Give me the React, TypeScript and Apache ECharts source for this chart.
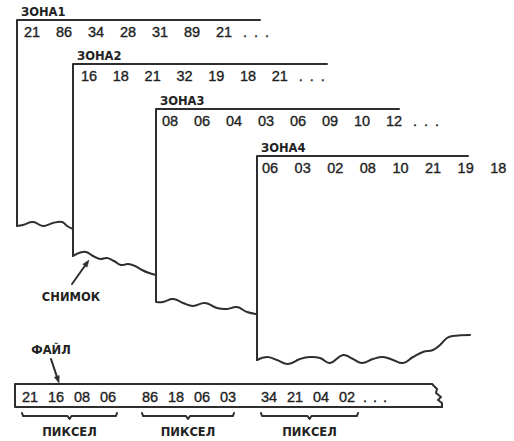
import React, { useEffect, useRef } from "react";
import * as echarts from "echarts";

// ---------- data ----------
const zoneLabels = ["ЗОНА1", "ЗОНА2", "ЗОНА3", "ЗОНА4"];
const zone1Values = ["21", "86", "34", "28", "31", "89", "21"];
const zone2Values = ["16", "18", "21", "32", "19", "18", "21"];
const zone3Values = ["08", "06", "04", "03", "06", "09", "10", "12"];
const zone4Values = ["06", "03", "02", "08", "10", "21", "19", "18"];
const zoneContinues = [true, true, true, false];
const pixel1Values = ["21", "16", "08", "06"];
const pixel2Values = ["86", "18", "06", "03"];
const pixel3Values = ["34", "21", "04", "02"];
const snapshotLabel = "СНИМОК";
const fileLabel = "ФАЙЛ";
const pixelLabel = "ПИКСЕЛ";

// ---------- layout ----------
const zoneValues = [zone1Values, zone2Values, zone3Values, zone4Values];
const pixelGroups = [pixel1Values, pixel2Values, pixel3Values];
const zoneX = [17, 73, 156, 257];
const zoneTop = [20, 64, 109, 156];
const zoneRight = [260, 327, 399, 468];
const zoneBottom = [226, 256, 301, 360];
const numStart = [24, 81, 162, 262];
const numStep = [32, 31.8, 32, 32.6];
const waves: number[][][] = [
  [[17, 226], [23, 225], [33, 222], [43, 226], [53, 223], [62, 222], [67, 226], [73, 229]],
  [[73, 256], [79, 253], [86, 252], [93, 256], [100, 259], [107, 258], [114, 261], [121, 265], [128, 264], [135, 266], [142, 270], [149, 273], [156, 275]],
  [[156, 302], [163, 302], [173, 299], [183, 303], [193, 306], [205, 303], [217, 308], [227, 309], [237, 307], [247, 312], [257, 314]],
  [[257, 360], [267, 357], [277, 360], [288, 364], [300, 359], [310, 357], [320, 358], [330, 363], [343, 355], [353, 359], [362, 363], [373, 359], [383, 357], [393, 360], [403, 363], [413, 357], [423, 352], [433, 350], [440, 345], [447, 338], [453, 336], [470, 335]],
];
const fileBox = { left: 15, top: 384, bottom: 407 };
const fileRightEdge: number[][] = [[432, 384], [437, 389], [436, 393], [441, 397], [438, 400], [442, 403], [442, 407]];
const groupStart = [22, 142, 261];
const groupEnd = [117, 234, 358];
const fileStep = 26;

const LINE = "#2e2e2e";
const TXT = "#222222";
const NUM_FONT = '"Liberation Sans", Arial, Helvetica, sans-serif';
const LABEL_FONT = '"DejaVu Sans", Verdana, sans-serif';
const LW = 2;

function txt(x: number, y: number, s: string, size: number, bold: boolean, align = "left") {
  return {
    type: "text",
    x,
    y,
    style: {
      text: s,
      fill: TXT,
      stroke: bold ? null : TXT,
      lineWidth: bold ? 0 : 0.35,
      fontSize: size,
      fontWeight: bold ? "bold" : "normal",
      fontFamily: bold ? LABEL_FONT : NUM_FONT,
      align,
      textAlign: align,
      verticalAlign: "middle",
      textVerticalAlign: "middle",
    },
  };
}

function poly(points: number[][], smooth = 0) {
  return {
    type: "polyline",
    shape: { points, smooth },
    style: { stroke: LINE, lineWidth: LW, fill: null, lineJoin: "round", lineCap: "round" },
  };
}

function arrow(fx: number, fy: number, tx: number, ty: number) {
  const dx = tx - fx;
  const dy = ty - fy;
  const len = Math.sqrt(dx * dx + dy * dy);
  const ux = dx / len;
  const uy = dy / len;
  const L = 7;
  const W = 2.6;
  const bx = tx - ux * L;
  const by = ty - uy * L;
  return [
    poly([[fx, fy], [bx, by]]),
    {
      type: "polygon",
      shape: { points: [[tx, ty], [bx - uy * W, by + ux * W], [bx + uy * W, by - ux * W]] },
      style: { fill: LINE, stroke: LINE, lineWidth: 0.5 },
    },
  ];
}

function buildGraphics() {
  const els: any[] = [];
  zoneLabels.forEach((label, z) => {
    const x0 = zoneX[z];
    const top = zoneTop[z];
    els.push(poly([[zoneRight[z], top], [x0, top], [x0, zoneBottom[z]]]));
    els.push(poly(waves[z], 0.45));
    els.push(txt(x0 + 4, top - 8, label, 11.5, true));
    const vals = zoneValues[z];
    vals.forEach((v, i) => {
      els.push(txt(numStart[z] + i * numStep[z], top + 12, v, 14.5, false));
    });
    if (zoneContinues[z]) {
      const endX = numStart[z] + (vals.length - 1) * numStep[z] + 16;
      for (let d = 0; d < 3; d++) els.push(txt(endX + 11 + d * 11, top + 12, ".", 14.5, false));
    }
  });

  // snapshot label & arrow
  els.push(txt(71, 297, snapshotLabel, 11.5, true, "center"));
  els.push(...arrow(72, 284, 89, 260));

  // file label & arrow
  els.push(txt(51, 350, fileLabel, 11.5, true, "center"));
  els.push(...arrow(51, 359, 59, 383));

  // file box
  els.push(poly([[fileRightEdge[0][0], fileBox.top], [fileBox.left, fileBox.top], [fileBox.left, fileBox.bottom], [fileRightEdge[fileRightEdge.length - 1][0], fileBox.bottom]]));
  els.push(poly(fileRightEdge));
  const fy = (fileBox.top + fileBox.bottom) / 2 + 1;
  pixelGroups.forEach((g, k) => {
    g.forEach((v, i) => els.push(txt(groupStart[k] + i * fileStep, fy, v, 14.5, false)));
    const a = groupStart[k];
    const b = groupEnd[k];
    const c = (a + b) / 2;
    els.push(poly([[a, 413], [a + 1, 416], [c - 2, 416], [c, 419], [c + 2, 416], [b - 1, 416], [b, 413]]));
    els.push(txt(c, 432, pixelLabel, 11.5, true, "center"));
  });
  const lastEnd = groupStart[2] + 3 * fileStep + 16;
  for (let d = 0; d < 3; d++) els.push(txt(lastEnd + 8 + d * 10, fy, ".", 14.5, false));
  return els;
}

export default function App() {
  const ref = useRef<HTMLDivElement>(null);
  useEffect(() => {
    if (!ref.current) return;
    const chart = echarts.init(ref.current, undefined, { renderer: "svg" });
    chart.setOption({
      animation: false,
      backgroundColor: "#ffffff",
      graphic: { elements: buildGraphics() },
    });
    return () => chart.dispose();
  }, []);
  return (
    <div
      ref={ref}
      style={{ position: "absolute", left: 0, top: 0, width: 514, height: 441, background: "#fff" }}
    />
  );
}
